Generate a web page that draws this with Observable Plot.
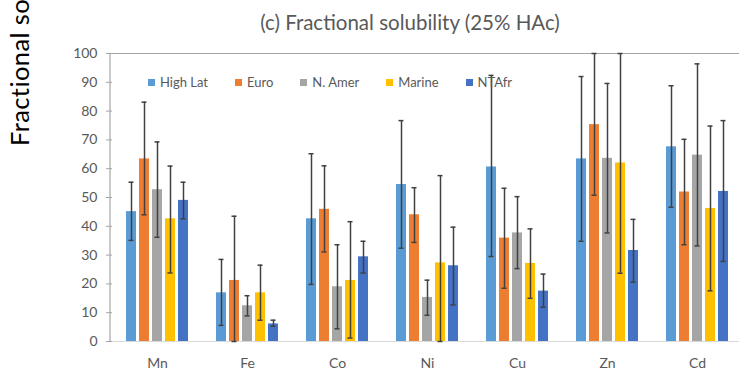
<!DOCTYPE html>
<html>
<head>
<meta charset="utf-8">
<script src="https://cdn.jsdelivr.net/npm/d3@7"></script>
<script src="https://cdn.jsdelivr.net/npm/@observablehq/plot@0.6"></script>
<style>
  html, body { margin: 0; padding: 0; background: #fff; overflow: hidden; }
  #wrap { position: relative; width: 739px; height: 382px; overflow: hidden; font-family: Lato, "Liberation Sans", sans-serif; }
  #title { position: absolute; left: 0; width: 820px; top: 10px; text-align: center; font-size: 20.5px; color: #595959; white-space: nowrap; }
  #legend { position: absolute; left: 148px; top: 74px; display: flex; font-size: 13px; color: #595959; white-space: nowrap; }
  #legend .item { display: flex; align-items: center; margin-right: 27px; }
  #legend .sw { width: 7px; height: 7px; margin-right: 5px; }
  #ylab { position: absolute; left: 33px; top: 146px; transform-origin: 0 0; transform: rotate(-90deg); font-size: 25.5px; letter-spacing: 0.4px; color: #000; white-space: nowrap; line-height: 1; margin-left: -26px; }
  #chart { position: absolute; left: 0; top: 0; }
</style>
</head>
<body>
<div id="wrap">
  <div id="chart"></div>
  <div id="title"></div>
  <div id="legend"></div>
  <div id="ylab"></div>
</div>
<script>
const titleText = "(c) Fractional solubility (25% HAc)";
const yLabel = "Fractional so";
const elements = ["Mn", "Fe", "Co", "Ni", "Cu", "Zn", "Cd"];
const series = ["High Lat", "Euro", "N. Amer", "Marine", "NTAfr"];
const colors = ["#5B9BD5", "#ED7D31", "#A5A5A5", "#FFC000", "#4472C4"];
const yTicks = [0, 10, 20, 30, 40, 50, 60, 70, 80, 90, 100];

// values per series, in element order
const highLat     = [45.1, 16.9, 42.6, 54.5, 60.6, 63.4, 67.6];
const highLatLow  = [35.1,  5.6, 19.8, 32.4, 29.5, 34.8, 46.6];
const highLatHigh = [55.3, 28.5, 65.2, 76.7, 92.4, 92.0, 88.8];

const euro     = [63.4, 21.2, 45.9, 44.0, 35.9, 75.3, 51.9];
const euroLow  = [44.0,  0.0, 31.1, 34.4, 18.5, 50.8, 33.6];
const euroHigh = [83.1, 43.5, 61.0, 53.4, 53.2, 100, 70.2];

const nAmer     = [52.7, 12.4, 19.0, 15.3, 37.7, 63.6, 64.7];
const nAmerLow  = [36.2,  8.9,  4.4,  9.1, 25.3, 37.7, 33.2];
const nAmerHigh = [69.3, 15.9, 33.6, 21.3, 50.3, 89.6, 96.4];

const marine     = [42.6, 16.9, 21.2, 27.3, 27.1, 62.0, 46.2];
const marineLow  = [23.8,  7.4,  1.2,  0.0, 15.0, 23.7, 17.6];
const marineHigh = [60.9, 26.5, 41.6, 57.6, 39.1, 100, 74.8];

const ntAfr     = [49.0,  6.1, 29.4, 26.3, 17.5, 31.6, 52.1];
const ntAfrLow  = [42.6,  5.3, 23.8, 12.7, 11.9, 20.6, 27.8];
const ntAfrHigh = [55.3,  7.4, 34.8, 39.7, 23.4, 42.4, 76.7];

const seriesValues = [
  [highLat, highLatLow, highLatHigh],
  [euro, euroLow, euroHigh],
  [nAmer, nAmerLow, nAmerHigh],
  [marine, marineLow, marineHigh],
  [ntAfr, ntAfrLow, ntAfrHigh]
];

const rows = [];
elements.forEach((el, i) => {
  series.forEach((s, j) => {
    const [v, lo, hi] = seriesValues[j];
    rows.push({element: el, series: s, value: v[i], low: lo[i], high: hi[i]});
  });
});

const marginLeft = 110;
const errColor = "#404040";

const plot = Plot.plot({
  width: 739,
  height: 382,
  marginTop: 53,
  marginBottom: 41,
  marginLeft: marginLeft,
  marginRight: -4,
  style: {fontFamily: "Lato, 'Liberation Sans', sans-serif", fontSize: "14px", color: "#595959", background: "transparent", overflow: "visible"},
  facet: {data: rows, x: "element"},
  fx: {domain: elements, padding: 0, label: null, tickSize: 0, tickPadding: 17},
  x: {domain: series, axis: null, paddingInner: 0.2, paddingOuter: 0.83},
  y: {domain: [0, 100], ticks: yTicks, label: null, tickSize: 6, tickPadding: 9},
  color: {domain: series, range: colors},
  marks: [
    Plot.ruleY([0], {stroke: "#D9D9D9", strokeWidth: 1.2}),
    Plot.ruleY([100], {stroke: "#A6A6A6", strokeWidth: 1.2}),
    Plot.barY(rows, {x: "series", y: "value", fill: "series"}),
    Plot.ruleX(rows, {x: "series", y1: "low", y2: "high", stroke: errColor, strokeWidth: 1.5}),
    Plot.tickY(rows, {x: "series", y: "low", stroke: errColor, strokeWidth: 1.5, insetLeft: 2.5, insetRight: 2.5}),
    Plot.tickY(rows, {x: "series", y: "high", stroke: errColor, strokeWidth: 1.5, insetLeft: 2.5, insetRight: 2.5})
  ]
});

document.getElementById("chart").appendChild(plot);

// left axis line through the y scale
const yScale = plot.scale("y");
d3.select(plot).append("line")
  .attr("x1", marginLeft).attr("x2", marginLeft)
  .attr("y1", yScale.apply(0)).attr("y2", yScale.apply(100))
  .attr("stroke", "#A6A6A6").attr("stroke-width", 1.2);
d3.select(plot).selectAll("[aria-label='y-axis tick'] path, [aria-label='y-axis'] line, [aria-label='y-axis'] path").attr("stroke", "#A6A6A6");

document.getElementById("title").textContent = titleText;
document.getElementById("ylab").textContent = yLabel;

const legend = d3.select("#legend");
series.forEach((s, i) => {
  const item = legend.append("div").attr("class", "item");
  item.append("div").attr("class", "sw").style("background", colors[i]);
  item.append("span").text(s);
});
</script>
</body>
</html>
